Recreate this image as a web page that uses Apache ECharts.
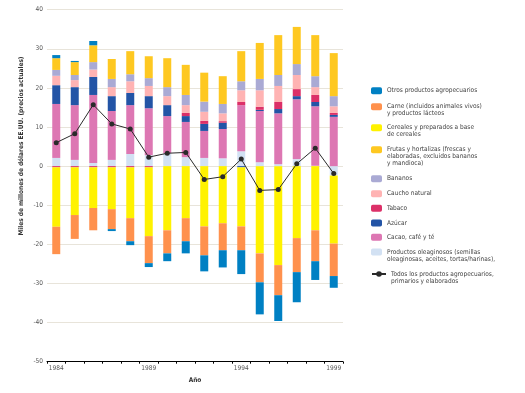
<!DOCTYPE html>
<html>
<head>
<meta charset="utf-8">
<script src="https://cdn.jsdelivr.net/npm/echarts@6/dist/echarts.min.js"></script>
<style>html,body{margin:0;padding:0;background:#fff}#c{width:525px;height:393px}</style>
</head>
<body>
<div id="c"></div>
<script>
const years = ['1984','1985','1986','1987','1988','1989','1990','1991','1992','1993','1994','1995','1996','1997','1998','1999'];
const oleaginosos = [2.1,1.6,0.8,1.6,3.1,2.8,3.3,2.3,2.1,2.0,3.8,1.0,0.5,1.8,0.1,-2.4];
const cacao      = [13.8,14.0,17.4,12.5,12.5,12.0,9.5,9.0,6.9,7.5,11.8,13.1,13.0,15.3,15.2,12.6];
const azucar     = [4.8,4.6,4.6,3.8,3.1,3.1,2.8,1.5,1.8,1.6,-0.3,0.3,1.1,0.8,1.1,0.5];
const tabaco     = [-0.3,-0.3,-0.3,-0.3,-0.3,-0.3,0,0.8,0.8,0.4,0.8,0.8,1.8,1.8,1.8,0.5];
const caucho     = [2.4,1.8,1.9,2.3,3.0,2.6,2.3,2.0,2.3,2.0,3.0,4.2,4.1,3.6,2.0,1.7];
const bananos    = [1.5,1.3,1.9,2.1,1.8,2.0,2.3,2.6,2.6,2.4,2.3,2.9,2.8,2.8,2.8,2.6];
const frutas     = [3.0,3.3,4.3,5.1,5.9,5.6,7.4,7.7,7.4,7.1,7.7,9.2,10.2,9.5,10.5,11.0];
const cereales   = [-15.2,-12.2,-10.4,-10.7,-13.0,-17.6,-16.4,-13.3,-15.4,-14.6,-15.1,-22.3,-25.3,-18.4,-16.4,-17.4];
const carne      = [-7.0,-6.1,-5.7,-5.1,-5.9,-6.9,-5.9,-5.9,-7.4,-6.9,-6.1,-7.4,-7.7,-8.7,-7.9,-8.3];
const otros      = [0.8,0.3,1.1,-0.5,-1.0,-1.0,-2.0,-3.1,-4.1,-4.4,-6.1,-8.2,-6.6,-7.7,-4.8,-3.0];
const total      = [6.0,8.3,15.7,10.8,9.5,2.3,3.3,3.5,-3.4,-2.7,1.8,-6.2,-6.0,0.6,4.6,-1.9];
const yTicks = [-50,-40,-30,-20,-10,0,10,20,30,40];

const FONT = "'Liberation Sans Narrow','DejaVu Sans Condensed',Roboto,sans-serif";

const barDefs = [
  {key:'ole', data:oleaginosos, color:'#d2e1f3', label:'Productos oleaginosos (semillas\noleaginosas, aceites, tortas/harinas),', yc:252},
  {key:'cacao', data:cacao, color:'#dd77b3', label:'Cacao, café y té', yc:237.3},
  {key:'azucar', data:azucar, color:'#2354a6', label:'Azúcar', yc:223},
  {key:'tabaco', data:tabaco, color:'#dc3068', label:'Tabaco', yc:208.3},
  {key:'caucho', data:caucho, color:'#ffb3b3', label:'Caucho natural', yc:193.7},
  {key:'bananos', data:bananos, color:'#aaaad4', label:'Bananos', yc:178.7},
  {key:'frutas', data:frutas, color:'#fec821', label:'Frutas y hortalizas (frescas y\nelaboradas, excluidos bananos\ny mandioca)', yc:149.7},
  {key:'cereales', data:cereales, color:'#fff200', label:'Cereales y preparados a base\nde cereales', yc:127.7},
  {key:'carne', data:carne, color:'#ff914d', label:'Carne (incluidos animales vivos)\ny productos lácteos', yc:106.7},
  {key:'otros', data:otros, color:'#0080c3', label:'Otros productos agropecuarios', yc:90.7}
];
const lineDef = {key:'total', data:total, color:'#2a2a2a', label:'Todos los productos agropecuarios,\nprimarios y elaborados', yc:274};

const series = barDefs.map(d => ({
  name: d.key, type:'bar', stack:'all', data:d.data, barWidth:8,
  itemStyle:{color:d.color}, emphasis:{disabled:true}
}));
series.push({
  name: lineDef.key, type:'line', data:lineDef.data, symbol:'circle', symbolSize:5,
  lineStyle:{color:lineDef.color, width:1}, itemStyle:{color:lineDef.color}, z:10
});

const LH = 7;
const allDefs = barDefs.concat([lineDef]);
const labelMap = {};
allDefs.forEach(d => labelMap[d.key] = d.label);
const legends = allDefs.map(d => {
  const n = d.label.split('\n').length;
  const N = 2*n - 1;
  const pre = '\n'.repeat(n-1);
  return {
    data:[d.key], left:371, top: d.yc - 3.5*N, padding:0, itemWidth: d.key==='total'?14:11, itemHeight:7,
    itemGap:0, selectedMode:false,
    formatter: name => pre + labelMap[name],
    textStyle:{fontFamily:FONT, fontSize:6.5, lineHeight:LH, color:'#444'}
  };
});

const chart = echarts.init(document.getElementById('c'), null, {renderer:'canvas'});
chart.setOption({
  animation:false,
  grid:{left:47, right:182, top:9.7, bottom:31.3, containLabel:false},
  legend: legends,
  xAxis:{
    type:'category', data:years, boundaryGap:true,
    name:'Año', nameLocation:'middle', nameGap:9,
    nameTextStyle:{fontFamily:FONT, fontSize:6.5, fontWeight:'bold', color:'#333'},
    axisLine:{onZero:false, lineStyle:{color:'#000', width:1}},
    axisTick:{show:true, interval:0, length:2, lineStyle:{color:'#000'}},
    axisLabel:{interval:4, margin:3, fontFamily:FONT, fontSize:6.5, color:'#555'},
    splitLine:{show:false}
  },
  yAxis:{
    type:'value', min:yTicks[0], max:yTicks[yTicks.length-1], interval:10,
    axisLine:{show:false}, axisTick:{show:false},
    axisLabel:{margin:4, fontFamily:FONT, fontSize:6.5, color:'#555'},
    splitLine:{lineStyle:{color:'#e8e4da', width:1}}
  },
  graphic:[{
    type:'text', x:21, y:146, rotation:Math.PI/2,
    style:{text:'Miles de millones de dólares EE.UU. (precios actuales)', align:'center', verticalAlign:'middle',
      font:"bold 6.5px " + FONT, fill:'#333'}
  }],
  series: series
});
</script>
</body>
</html>
